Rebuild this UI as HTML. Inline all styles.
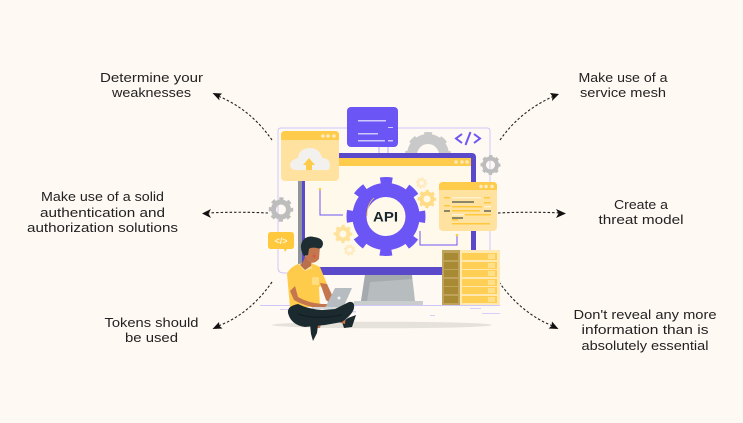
<!DOCTYPE html>
<html><head><meta charset="utf-8"><style>
html,body{margin:0;padding:0;background:#FFF9F3}
svg{display:block}
text.l{font-family:"Liberation Sans",sans-serif;font-size:13px;fill:#222;text-anchor:middle}
</style></head><body>
<svg width="743" height="423" viewBox="0 0 743 423" xmlns="http://www.w3.org/2000/svg">
<rect width="743" height="423" fill="#FFF9F3"/>
<!-- labels -->
<g>
<text class="l" x="151.500" y="82" textLength="103" lengthAdjust="spacingAndGlyphs">Determine your</text>
<text class="l" x="151.500" y="97" textLength="79" lengthAdjust="spacingAndGlyphs">weaknesses</text>
<text class="l" x="102.500" y="201" textLength="123" lengthAdjust="spacingAndGlyphs">Make use of a solid</text>
<text class="l" x="102.500" y="217" textLength="125" lengthAdjust="spacingAndGlyphs">authentication and</text>
<text class="l" x="102.500" y="232" textLength="151" lengthAdjust="spacingAndGlyphs">authorization solutions</text>
<text class="l" x="151.500" y="327" textLength="94" lengthAdjust="spacingAndGlyphs">Tokens should</text>
<text class="l" x="151.500" y="342" textLength="53" lengthAdjust="spacingAndGlyphs">be used</text>
<text class="l" x="623" y="82" textLength="89" lengthAdjust="spacingAndGlyphs">Make use of a</text>
<text class="l" x="623" y="97" textLength="86" lengthAdjust="spacingAndGlyphs">service mesh</text>
<text class="l" x="641" y="209" textLength="54" lengthAdjust="spacingAndGlyphs">Create a</text>
<text class="l" x="641" y="224" textLength="85" lengthAdjust="spacingAndGlyphs">threat model</text>
<text class="l" x="645" y="319" textLength="143" lengthAdjust="spacingAndGlyphs">Don't reveal any more</text>
<text class="l" x="645" y="334" textLength="127" lengthAdjust="spacingAndGlyphs">information than is</text>
<text class="l" x="645" y="350" textLength="127" lengthAdjust="spacingAndGlyphs">absolutely essential</text>
</g>
<!-- arrows -->
<g fill="none" stroke="#222" stroke-width="1.100" stroke-dasharray="2.500 2">
<path d="M272 140 C258 120 240 105 218 96"/>
<path d="M268 213 C250 212 228 212 207 213"/>
<path d="M272 282 C258 302 240 318 218 326"/>
<path d="M500 140 C514 120 532 106 554 96"/>
<path d="M498 213 C520 212 542 212 561 213"/>
<path d="M499 282 C513 302 532 318 553 326"/>
</g>
<g fill="#111">
<path d="M212.500 93 L222 93.500 L219 96.500 L219.500 100.500Z"/>
<path d="M202 213.500 L211 209 L208.500 213.500 L211 218Z"/>
<path d="M212.500 329 L219 322 L219.500 326 L222.500 328.500Z"/>
<path d="M559 94 L550 93 L552.500 96.500 L552 101Z"/>
<path d="M566 213.500 L556 209 L558.500 213.500 L556 218Z"/>
<path d="M558.500 329 L552 321.500 L551.500 326 L548.500 328.500Z"/>
</g>
<!-- lavender frame -->
<path d="M278 250 V131 Q278 128 281 128 H487 Q490 128 490 131 V250" fill="none" stroke="#CFC6FA" stroke-width="1"/>
<path d="M278 250 V268 Q278 273 284 273 H288" fill="none" stroke="#CFC6FA" stroke-width="1"/>
<!-- back gray gear -->
<g fill="none" stroke="#C9C9C9"><circle cx="428" cy="155" r="16" stroke-width="10"/><circle cx="428" cy="155" r="20.500" stroke-width="5" stroke-dasharray="7.500 8.600" stroke-dashoffset="3.750"/></g>
<!-- monitor -->
<rect x="298" y="153" width="178" height="122" rx="4" fill="#5A49C8"/>
<rect x="298" y="158" width="4" height="117" fill="#8E9499"/>
<rect x="305" y="158" width="166" height="109" fill="#FFF9EC"/>
<rect x="305" y="158" width="166" height="8" fill="#FFCB4A"/>
<circle cx="456" cy="162" r="1.800" fill="#FFE9B5"/><circle cx="462" cy="162" r="1.800" fill="#FFE9B5"/><circle cx="467" cy="162" r="1.800" fill="#FFE9B5"/>
<!-- stand -->
<path d="M365 275 H412 L415 301 H361Z" fill="#B7BCBE"/>
<path d="M365 275 L361 301 H367 L370 282 L412 279 V275Z" fill="#A4AAAD"/>
<rect x="354" y="301" width="69" height="4" fill="#C9CDCE"/>
<!-- ground -->
<rect x="260" y="305" width="240" height="1" fill="#CFC6FA"/>
<rect x="300" y="311" width="56" height="1.500" fill="#D7CFFA"/><rect x="280" y="309" width="14" height="1" fill="#D7CFFA"/>
<rect x="470" y="308" width="11" height="1" fill="#D7CFFA"/><rect x="482" y="313" width="18" height="1" fill="#D7CFFA"/><rect x="430" y="315" width="5" height="1" fill="#D7CFFA"/>
<ellipse cx="382" cy="325" rx="110" ry="3.300" fill="#E5E2DB"/>
<!-- purple card -->
<path d="M379 140 V153 M388 140 V153" stroke="#B8ADF8" stroke-width="1"/>
<rect x="347" y="107" width="51" height="40" rx="4" fill="#6C55F5"/>
<g fill="#CFC8FC"><rect x="358" y="120" width="28" height="1.500"/><rect x="388" y="127" width="5" height="1"/><rect x="358" y="133" width="20" height="1.500"/><rect x="358" y="140" width="27" height="1.500"/><rect x="388" y="140" width="5" height="1.500"/></g>
<!-- upload card -->
<rect x="281" y="131" width="58" height="50" rx="4" fill="#FFE2A0"/>
<path d="M281 140 V135 Q281 131 285 131 H335 Q339 131 339 135 V140Z" fill="#FFCB4A"/>
<circle cx="323" cy="136" r="1.800" fill="#FFEBC0"/><circle cx="328" cy="136" r="1.800" fill="#FFEBC0"/><circle cx="334" cy="136" r="1.800" fill="#FFEBC0"/>
<path d="M296 170 H327 Q330 170 330 166 Q330 158 322 158 Q320 148 309 148 Q299 149 298 158 Q290 160 290 166 Q291 170 296 170Z" fill="#F2F1EE"/>
<path d="M309 158 L315 165 H312 V170 H306 V165 H303Z" fill="#FFCB4A"/>
<!-- api gear -->
<g fill="none" stroke="#6C55F5"><circle cx="386" cy="216.500" r="26.500" stroke-width="14"/><circle cx="386" cy="216.500" r="35" stroke-width="9" stroke-dasharray="11.500 15.990" stroke-dashoffset="5.750"/><circle cx="386" cy="216.500" r="32" stroke-width="3" stroke-dasharray="15 10.130" stroke-dashoffset="7.500"/></g>
<path d="M367 216 Q367 204 374 198" fill="none" stroke="#FFCB4A" stroke-width=".8"/>
<text x="385.500" y="221.500" text-anchor="middle" font-family="Liberation Sans,sans-serif" font-weight="700" font-size="14" fill="#17272D" textLength="25" lengthAdjust="spacingAndGlyphs">API</text>
<path d="M320 190 V215 H343" fill="none" stroke="#6C55F5" stroke-width="1"/><circle cx="320" cy="189" r="1.300" fill="#FFCB4A"/>
<path d="M420 231 V245 H457 V236" fill="none" stroke="#6C55F5" stroke-width="1"/><circle cx="457" cy="235" r="1.300" fill="#FFCB4A"/>
<!-- small gears -->
<g fill="none">
<circle cx="427" cy="199" r="5.500" stroke="#FFDC85" stroke-width="4"/><circle cx="427" cy="199" r="8" stroke="#FFDC85" stroke-width="2.500" stroke-dasharray="3.100 3.180" stroke-dashoffset="1.500"/>
<circle cx="421.500" cy="183" r="3.500" stroke="#FFEBC0" stroke-width="2.500"/><circle cx="421.500" cy="183" r="5" stroke="#FFEBC0" stroke-width="1.500" stroke-dasharray="2 1.930"/>
<circle cx="343" cy="234" r="5.500" stroke="#FFE29A" stroke-width="4"/><circle cx="343" cy="234" r="8" stroke="#FFE29A" stroke-width="2.500" stroke-dasharray="3.100 3.180" stroke-dashoffset="1.500"/>
<circle cx="349.500" cy="250" r="3.500" stroke="#FFEBC0" stroke-width="2.500"/><circle cx="349.500" cy="250" r="5" stroke="#FFEBC0" stroke-width="1.500" stroke-dasharray="2 1.930"/>
<circle cx="281" cy="209.500" r="7.500" stroke="#BDBDBD" stroke-width="5"/><circle cx="281" cy="209.500" r="10.500" stroke="#BDBDBD" stroke-width="3.500" stroke-dasharray="4.100 4.150" stroke-dashoffset="2"/>
<circle cx="490.500" cy="165" r="6.500" stroke="#BDBDBD" stroke-width="4"/><circle cx="490.500" cy="165" r="8.500" stroke="#BDBDBD" stroke-width="3" stroke-dasharray="3.300 3.370" stroke-dashoffset="1.600"/>
</g>
<!-- code symbol -->
<g fill="none" stroke="#6C55F5" stroke-width="2"><path d="M462 134 L456 138.500 L462 143"/><path d="M474 134 L480 138.500 L474 143"/><path d="M470.500 132 L465.500 145"/></g>
<!-- code card -->
<rect x="439" y="182" width="58" height="49" rx="4" fill="#FFE2A0"/>
<path d="M439 190 V186 Q439 182 443 182 H493 Q497 182 497 186 V190Z" fill="#FFCB4A"/>
<circle cx="481" cy="186.500" r="1.800" fill="#FFEBC0"/><circle cx="486" cy="186.500" r="1.800" fill="#FFEBC0"/><circle cx="492" cy="186.500" r="1.800" fill="#FFEBC0"/>
<g fill="#FFC83D"><rect x="444" y="197" width="6" height="1.500"/><rect x="484" y="197" width="6" height="1.500"/><rect x="444" y="205" width="6" height="1.500"/><rect x="484" y="202" width="7" height="1.500"/><rect x="452" y="206" width="30" height="1.500"/><rect x="452" y="214" width="6" height="1.500"/><rect x="465" y="214" width="26" height="1.500"/><rect x="452" y="210" width="28" height="1.500"/><rect x="452" y="219" width="6" height="1.500"/><rect x="452" y="223" width="38" height="1.500"/></g>
<g fill="#FFF1CC"><rect x="452" y="197" width="29" height="1.500"/><rect x="452" y="214" width="12" height="1.500"/><rect x="484" y="206" width="7" height="1.500"/></g>
<g fill="#8A8668"><rect x="452" y="201" width="22" height="2"/><rect x="444" y="210" width="6" height="2"/><rect x="484" y="210" width="7" height="2"/><rect x="452" y="217" width="11" height="2"/></g>
<!-- server -->
<rect x="442" y="250" width="18" height="55" fill="#BFA35B"/>
<g fill="#A98A34"><rect x="444" y="253" width="14" height="7"/><rect x="444" y="262" width="14" height="7"/><rect x="444" y="270" width="14" height="7"/><rect x="444" y="279" width="14" height="7"/><rect x="444" y="287" width="14" height="7"/><rect x="444" y="296" width="14" height="7"/></g>
<rect x="460" y="250" width="40" height="55" fill="#FFE9B0"/>
<g fill="#FFCE55"><rect x="462" y="253" width="35" height="7"/><rect x="462" y="262" width="35" height="7"/><rect x="462" y="270" width="35" height="7"/><rect x="462" y="279" width="35" height="7"/><rect x="462" y="287" width="35" height="7"/><rect x="462" y="296" width="35" height="7"/></g>
<g fill="#FFE08A"><rect x="488" y="254" width="7" height="5"/><rect x="488" y="263" width="7" height="5"/><rect x="488" y="271" width="7" height="5"/><rect x="488" y="280" width="7" height="5"/><rect x="488" y="288" width="7" height="5"/><rect x="488" y="297" width="7" height="5"/></g>
<!-- bubble -->
<path d="M271 232 H291 Q294 232 294 235 V246 Q294 249 291 249 H287 L285 252 L284 249 H271 Q268 249 268 246 V235 Q268 232 271 232Z" fill="#FFC83D"/>
<text x="281" y="244" text-anchor="middle" font-family="Liberation Sans,sans-serif" font-weight="700" font-size="9" fill="#FFF6DD">&lt;/&gt;</text>
<!-- person -->
<path d="M342 322 L344 328 L352 327 L356 315 L348 318Z" fill="#1B2A2F"/>
<path d="M334 321 L346 316 L345 324Z" fill="#C4764F"/>
<path d="M311 322 L322 321 L320 328 L313 328Z" fill="#C4764F"/>
<path d="M310 324 L311 334 L313 341 L317 333 L318 325Z" fill="#1B2A2F"/>
<path d="M298 264 Q289 268 287 274 L290 307 H320 L319 287 L327 284 L320 267 L311 263Z" fill="#FFCB4A"/>
<path d="M298 264 L305 271 L312 268 L310 263Z" fill="#FFE59D"/>
<rect x="312" y="277" width="7" height="8" rx="1" fill="#FFDD80"/>
<path d="M305 256 Q304 262 300 265 L305 270 L311 266 L312 258Z" fill="#B96F4B"/>
<path d="M304 246 L320 246 L319 259 Q313 266 307 260Z" fill="#C4764F"/>
<path d="M304 256 Q299 248 302 242 Q306 235 314 237 Q323 238 323 244 Q322 250 317 248 Q311 247 309 249 L308 255Z" fill="#1D2D32"/>
<circle cx="314" cy="256" r="1.500" fill="#D9563E"/>
<path d="M295 286 L298 297 Q308 303 322 304 L331 304 L331 308 L318 308 Q304 306 294 300 L290 291Z" fill="#C4764F"/>
<path d="M320 283 L327 284 L333 297 L331 304 L326 300Z" fill="#C4764F"/>
<path d="M335 288 H352 L343 308 H325Z" fill="#B6BCC0"/>
<path d="M312 307 H343 L342 309 H312Z" fill="#D5D8DA"/>
<circle cx="339" cy="298" r="1.500" fill="#F4F4F4"/>
<path d="M298 304 Q287 306 288 313 Q291 325 305 327 L325 325 L342 322 Q353 314 354 308 Q355 301 349 302 L335 309 L322 310 Q308 309 298 304Z" fill="#1B2A2F"/>
<path d="M298 314 Q315 320 342 315" fill="none" stroke="#111D21" stroke-width="1"/>
</svg>
</body></html>
